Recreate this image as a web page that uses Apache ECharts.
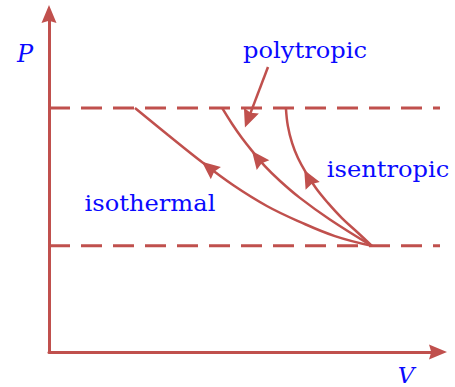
<!DOCTYPE html>
<html><head><meta charset="utf-8">
<script src="https://cdn.jsdelivr.net/npm/echarts@6/dist/echarts.min.js"></script>
<style>html,body{margin:0;padding:0;background:#fff}#c{width:455px;height:387px}</style>
</head><body><div id="c"></div>
<script>
// ---- data (V, P in arbitrary units) ----
const pHigh = 7.22;
const pLow = 3.14;
const vDashEnd = 10.2;
const isothermalV = [2.21, 3.06, 3.93, 4.73, 5.60, 6.45, 7.35, 8.30];
const isothermalP = [7.22, 6.42, 5.62, 4.94, 4.32, 3.85, 3.43, 3.14];
const polytropicV = [4.45, 4.70, 4.96, 5.22, 5.55, 5.94, 6.45, 7.22, 8.30];
const polytropicP = [7.22, 6.76, 6.33, 5.95, 5.50, 5.06, 4.56, 3.92, 3.14];
const isentropicV = [6.09, 6.14, 6.25, 6.40, 6.61, 6.86, 7.17, 7.53, 7.92, 8.30];
const isentropicP = [7.22, 6.69, 6.18, 5.74, 5.30, 4.85, 4.41, 3.96, 3.55, 3.14];
const arrowV = [4.11, 5.36, 6.67, 5.12];
const arrowP = [5.46, 5.74, 5.15, 6.89];
const pointerV = [5.63, 5.12];
const pointerP = [8.43, 6.89];
const labels = ['polytropic', 'isothermal', 'isentropic'];
const axisNames = ['P', 'V'];

// ---- styles ----
const RED = '#c0504d';
const BLUE = '#0a0aff';
const arrowRot = [51, 38, 28, 159];
const headPath = 'path://M5,0 L10,12 L5,10.5 L0,12 Z';
const labelFont = '23px "DejaVu Serif"';

const zip = (a, b) => a.map((v, i) => [v, b[i]]);
const curve = (name, v, p) => ({
  type: 'line', name, data: zip(v, p), smooth: 0.4, symbol: 'none', clip: false,
  lineStyle: { color: RED, width: 2.5 }, silent: true
});
const dashed = (p) => ({
  type: 'line', data: [[0, p], [vDashEnd, p]], symbol: 'none', clip: false,
  lineStyle: { color: RED, width: 3, type: [21, 11] }, silent: true
});

const chart = echarts.init(document.getElementById('c'), null, { renderer: 'svg' });
chart.setOption({
  animation: false,
  backgroundColor: '#fff',
  grid: { left: 49, right: 17, top: 14, bottom: 35, containLabel: false, outerBoundsMode: 'none' },
  xAxis: {
    type: 'value', min: 0, max: 10,
    axisLine: { lineStyle: { color: RED, width: 3 }, symbol: ['none', headPath], symbolSize: [18, 18] },
    axisTick: { show: false }, axisLabel: { show: false }, splitLine: { show: false }
  },
  yAxis: {
    type: 'value', min: 0, max: 10,
    axisLine: { show: true, lineStyle: { color: RED, width: 3 }, symbol: ['none', headPath], symbolSize: [18, 18] },
    axisTick: { show: false }, axisLabel: { show: false }, splitLine: { show: false }
  },
  series: [
    dashed(pHigh), dashed(pLow),
    curve('isothermal', isothermalV, isothermalP),
    curve('polytropic', polytropicV, polytropicP),
    curve('isentropic', isentropicV, isentropicP),
    {
      type: 'line', data: zip(pointerV, pointerP), symbol: 'none', clip: false,
      lineStyle: { color: RED, width: 2.5 }, silent: true
    },
    {
      type: 'scatter', clip: false, silent: true,
      data: zip(arrowV, arrowP).map((d, i) => ({ value: d, symbolRotate: arrowRot[i] })),
      symbol: headPath, symbolSize: [16, 18],
      itemStyle: { color: RED, opacity: 1 }
    }
  ],
  graphic: [
    { type: 'text', x: 305, y: 50, scaleX: 1.05, style: { text: labels[0], fill: BLUE, font: labelFont, align: 'center', verticalAlign: 'middle' } },
    { type: 'text', x: 150, y: 203, scaleX: 1.05, style: { text: labels[1], fill: BLUE, font: labelFont, align: 'center', verticalAlign: 'middle' } },
    { type: 'text', x: 388, y: 169, scaleX: 1.05, style: { text: labels[2], fill: BLUE, font: labelFont, align: 'center', verticalAlign: 'middle' } },
    { type: 'text', x: 25, y: 54, style: { text: axisNames[0], fill: BLUE, font: 'italic 24px "DejaVu Serif"', align: 'center', verticalAlign: 'middle' } },
    { type: 'text', x: 406, y: 386, style: { text: axisNames[1], fill: BLUE, font: 'italic 23px "DejaVu Serif"', align: 'center', verticalAlign: 'bottom' } }
  ]
});
</script></body></html>
